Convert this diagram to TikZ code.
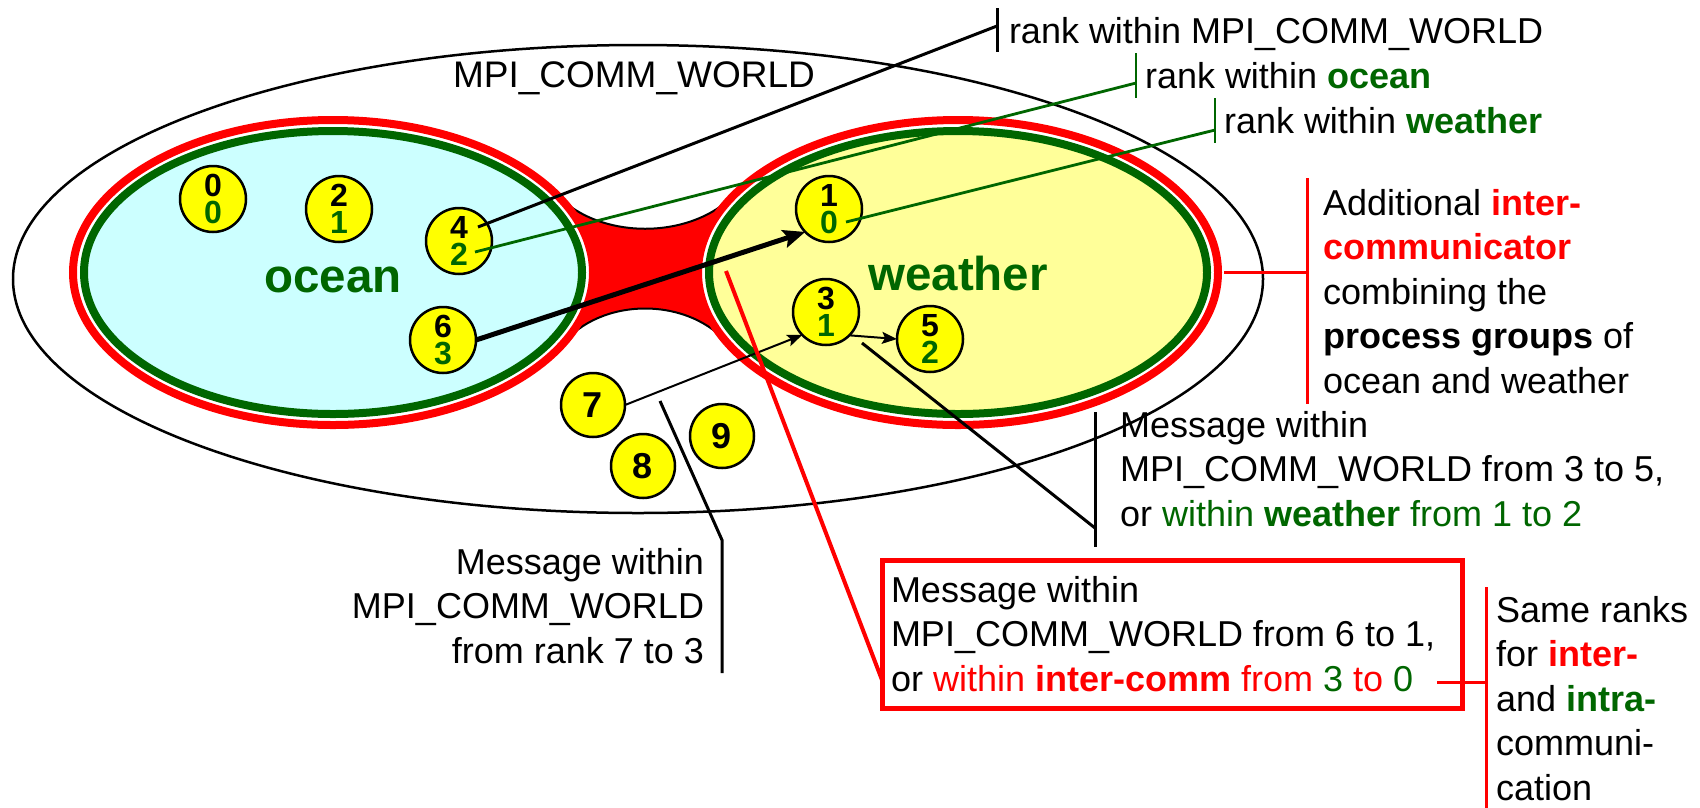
\documentclass[tikz,border=0pt]{standalone}
\usepackage{fontspec}
\setmainfont{Liberation Sans}
\usetikzlibrary{arrows.meta,calc,shapes.geometric}
\definecolor{mgreen}{RGB}{0,102,0}
\definecolor{mred}{RGB}{255,0,0}
\definecolor{oceanfill}{RGB}{204,255,255}
\definecolor{weatherfill}{RGB}{255,255,153}
\definecolor{procfill}{RGB}{255,255,0}
\begin{document}
\begin{tikzpicture}[x=1pt,y=-1pt,
  every node/.style={inner sep=0pt, outer sep=0pt},
  txt/.style={font=\fontsize{36}{44.5}\selectfont, align=left},
  proc/.style={circle, draw=black, line width=2.5pt, fill=procfill, minimum size=66pt,
    font=\fontsize{32}{27}\selectfont\bfseries, align=center},
  procs/.style={proc, font=\fontsize{36}{36}\selectfont\bfseries, minimum size=64pt},
  redring/.style={ellipse, draw=mred, line width=8pt, fill=white, minimum width=520pt, minimum height=305pt},
  greenring/.style={ellipse, draw=mgreen, line width=8pt, minimum width=498pt, minimum height=283pt},
  grouplabel/.style={font=\fontsize{47.5}{50}\selectfont\bfseries, text=mgreen},
  blackline/.style={draw=black, line width=3pt},
  greenline/.style={draw=mgreen, line width=2.8pt},
  redline/.style={draw=mred, line width=3pt},
  bridgeline/.style={draw=mred, line width=4pt},
  msgarrow/.style={line width=2pt, -{Stealth[length=15pt,width=12pt,inset=3pt]}},
  bigarrow/.style={line width=5pt, -{Stealth[length=22pt,width=18pt,inset=4pt]}},
]
\useasboundingbox (0,0) rectangle (1700,807);

% MPI_COMM_WORLD
\draw[line width=2.5pt] (638,279) ellipse [x radius=625pt, y radius=234pt];

% bridge of the inter-communicator
\fill[mred] (557,195) .. controls (600,240) and (690,240) .. (734,195) -- (770,272) -- (730,346)
  .. controls (690,296) and (600,296) .. (561,346) -- (525,272) -- cycle;
\draw[line width=2pt] (557,195) .. controls (600,240) and (690,240) .. (734,195);
\draw[line width=2pt] (561,346) .. controls (600,296) and (690,296) .. (730,346);

% groups
\node[redring] (oR) at (333,272.5) {};
\node[redring] (wR) at (958,272.5) {};
\node[greenring, fill=oceanfill] (oG) at (333,272.5) {};
\node[greenring, fill=weatherfill] (wG) at (958,272.5) {};

\node[grouplabel, anchor=base] (tocean) at (333,292) {ocean};
\node[grouplabel, anchor=base] (tweather) at (958,290) {weather};
\node[font=\fontsize{37}{40}\selectfont, anchor=base west] (tworld) at (453,87) {MPI\_COMM\_WORLD};

% processes
\node[proc] (c0) at (213,199) {0\\\textcolor{mgreen}{0}};
\node[proc] (c2) at (339,209) {2\\\textcolor{mgreen}{1}};
\node[proc] (c4) at (459,241) {4\\\textcolor{mgreen}{2}};
\node[proc] (c6) at (443,340) {6\\\textcolor{mgreen}{3}};
\node[proc] (c1) at (829,209) {1\\\textcolor{mgreen}{0}};
\node[proc] (c3) at (826,312) {3\\\textcolor{mgreen}{1}};
\node[proc] (c5) at (930,339) {5\\\textcolor{mgreen}{2}};
\node[procs] (c7) at (593,405) {7};
\node[procs] (c8) at (643,466) {8};
\node[procs] (c9) at (722,436) {9};

% messages
\draw[bigarrow] (c6.east) -- (c1.224);
\draw[msgarrow] (c7.east) -- (c3.224);
\draw[msgarrow] (c3.south east) -- (c5.west);

% bracket coordinates
\coordinate (b1t) at (997,8);    \coordinate (b1m) at (997,26);   \coordinate (b1b) at (997,52);
\coordinate (b2t) at (1136,53);  \coordinate (b2m) at (1136,83);  \coordinate (b2b) at (1136,98);
\coordinate (b3t) at (1215,98);  \coordinate (b3m) at (1215,130); \coordinate (b3b) at (1215,143);
\coordinate (b4t) at (1095,412); \coordinate (b4m) at (1095,528); \coordinate (b4b) at (1095,547);
\coordinate (m73) at (660,401);  \coordinate (b5t) at (722,540);  \coordinate (b5b) at (722,673);
\coordinate (art) at (1307,178); \coordinate (arm) at (1307,272.5); \coordinate (arb) at (1307,404);
\coordinate (brs) at (726,271);  \coordinate (bre) at (882,680);
\coordinate (sr0) at (1437,682); \coordinate (srt) at (1486,587); \coordinate (srm) at (1486,682); \coordinate (srb) at (1486,810);

% label connectors
\draw[blackline] ($(c4)+(19,-14)$) -- (b1m);
\draw[blackline] (b1t) -- (b1b);
\draw[greenline] ($(c4)+(16,11)$) -- (b2m);
\draw[greenline] (b2t) -- (b2b);
\draw[greenline] ($(c1)+(17,13)$) -- (b3m);
\draw[greenline] (b3t) -- (b3b);
\draw[blackline] ($(c3)+(36,31)$) -- (b4m);
\draw[blackline] (b4t) -- (b4b);
\draw[blackline] (m73) -- (b5t) -- (b5b);
\draw[redline] ($(wR.east)+(6,0)$) -- (arm);
\draw[redline] (art) -- (arb);
\draw[bridgeline] (brs) -- (bre);

% red box
\node[draw=mred, line width=5pt, minimum width=580pt, minimum height=148pt] (box) at (1172,634) {};
\draw[redline] (sr0) -- (srm);
\draw[redline] (srt) -- (srb);

% texts
\node[txt, anchor=base west] (t1) at (1009,43) {rank within MPI\_COMM\_WORLD};
\node[txt, anchor=base west] (t2) at (1145,88) {rank within \textcolor{mgreen}{\bfseries ocean}};
\node[txt, anchor=base west] (t3) at (1224,133) {rank within \textcolor{mgreen}{\bfseries weather}};
\node[txt, anchor=north west] (t4) at (1323,183.85) {\strut Additional \textcolor{mred}{\bfseries inter-}\\
  \textcolor{mred}{\bfseries communicator}\\ combining the\\ \textbf{process groups} of\\ ocean and weather};
\node[txt, anchor=north west] (t5) at (1120,405.85) {\strut Message within\\
  MPI\_COMM\_WORLD from 3 to 5,\\ or \textcolor{mgreen}{within \textbf{weather} from 1 to 2}};
\node[txt, anchor=north east, align=right] (t6) at (704,542.85) {\strut Message within\\
  MPI\_COMM\_WORLD\\ from rank 7 to 3};
\node[txt, anchor=north west] (t7) at (891,570.85) {\strut Message within\\
  MPI\_COMM\_WORLD from 6 to 1,\\ or \textcolor{mred}{within \textbf{inter-comm} from} \textcolor{mgreen}{3} \textcolor{mred}{to} \textcolor{mgreen}{0}};
\node[txt, anchor=north west] (t8) at (1496,590.85) {\strut Same ranks\\
  for \textcolor{mred}{\bfseries inter-}\\ and \textcolor{mgreen}{\bfseries intra-}\\ communi-\\ cation};
\end{tikzpicture}
\end{document}
